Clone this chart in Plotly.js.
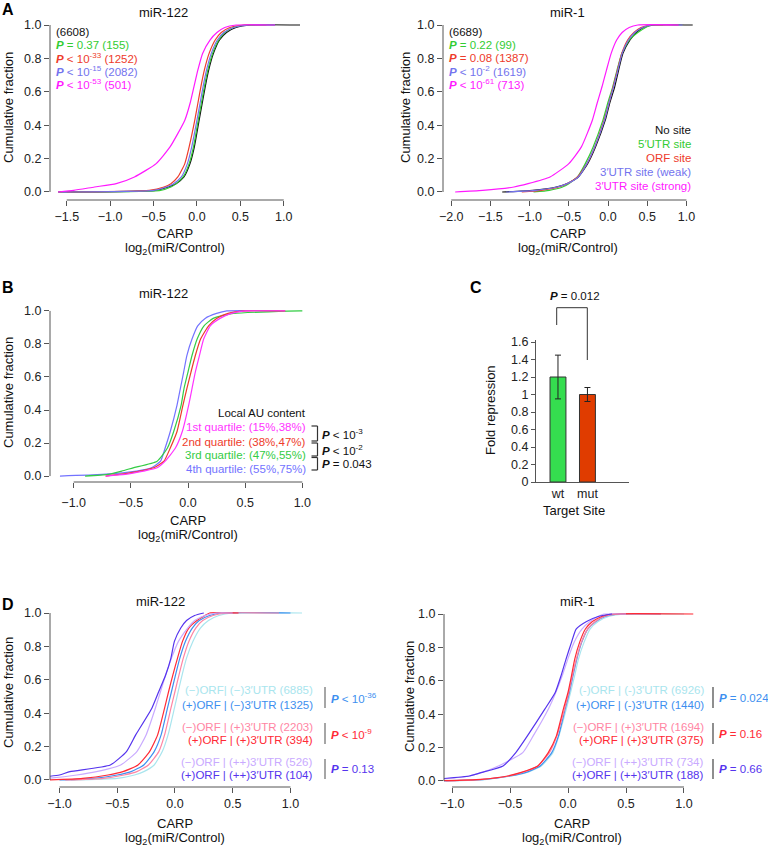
<!DOCTYPE html>
<html><head><meta charset="utf-8">
<script src="https://cdn.plot.ly/plotly-3.0.1.min.js"></script>
<style>html,body{margin:0;padding:0;background:#fff}#chart{width:768px;height:850px}</style>
</head><body><div id="chart"></div>
<script>
// ---------- DATA (x values of each cumulative curve at the shared cumulative levels) ----------
const LEVELS = [0, 0.01, 0.03, 0.05, 0.09, 0.17, 0.27, 0.43, 0.53, 0.63, 0.73, 0.83, 0.91, 0.955, 0.985, 1, 1];

// Panel A, miR-122
const A122_noSite   = [-1.6, -0.48, -0.33, -0.24, -0.15, -0.08, -0.03, 0.025, 0.06, 0.095, 0.135, 0.19, 0.26, 0.34, 0.45, 0.62, 1.2];
const A122_utr5     = [-1.45, -0.42, -0.3, -0.24, -0.16, -0.09, -0.04, 0.015, 0.05, 0.085, 0.125, 0.18, 0.25, 0.32, 0.42, 0.55, 0.9];
const A122_orf      = [-1.5, -0.55, -0.38, -0.3, -0.22, -0.14, -0.09, -0.025, 0.01, 0.045, 0.085, 0.14, 0.21, 0.28, 0.38, 0.55, 0.8];
const A122_weak     = [-1.55, -0.5, -0.35, -0.27, -0.18, -0.11, -0.06, 0.0, 0.035, 0.07, 0.11, 0.165, 0.235, 0.31, 0.42, 0.6, 0.9];
const A122_strong   = [-1.6, -1.42, -1.18, -0.93, -0.72, -0.47, -0.31, -0.14, -0.08, -0.035, 0.01, 0.065, 0.15, 0.23, 0.32, 0.45, 0.9];
// Panel A, miR-1
const A1_noSite     = [-1.35, -0.96, -0.66, -0.52, -0.38, -0.26, -0.16, -0.035, 0.02, 0.085, 0.135, 0.19, 0.28, 0.36, 0.45, 0.6, 1.08];
const A1_utr5       = [-0.95, -0.75, -0.58, -0.5, -0.39, -0.29, -0.19, -0.065, -0.005, 0.06, 0.115, 0.175, 0.27, 0.38, 0.48, 0.55, 0.7];
const A1_orf        = [-1.1, -0.85, -0.63, -0.52, -0.39, -0.27, -0.17, -0.05, 0.01, 0.065, 0.12, 0.175, 0.25, 0.33, 0.42, 0.55, 0.9];
const A1_weak       = [-1.3, -0.92, -0.65, -0.52, -0.38, -0.27, -0.17, -0.045, 0.01, 0.07, 0.125, 0.18, 0.26, 0.34, 0.44, 0.55, 0.95];
const A1_strong     = [-1.95, -1.6, -1.2, -1.02, -0.74, -0.5, -0.34, -0.2, -0.14, -0.077, -0.02, 0.04, 0.11, 0.18, 0.27, 0.38, 0.9];
// Panel B, miR-122, local AU quartiles
const B_q1 = [-0.72, -0.55, -0.39, -0.27, -0.2, -0.11, -0.05, 0.006, 0.035, 0.064, 0.1, 0.137, 0.195, 0.28, 0.38, 0.5, 0.85];
const B_q2 = [-0.72, -0.6, -0.42, -0.3, -0.21, -0.155, -0.096, -0.044, -0.01, 0.026, 0.064, 0.11, 0.18, 0.25, 0.35, 0.5, 0.85];
const B_q3 = [-0.9, -0.7, -0.58, -0.48, -0.27, -0.18, -0.125, -0.06, -0.035, 0.0, 0.035, 0.08, 0.14, 0.22, 0.4, 0.98, 1.0];
const B_q4 = [-1.12, -0.75, -0.45, -0.32, -0.24, -0.2, -0.155, -0.096, -0.067, -0.038, -0.01, 0.035, 0.085, 0.15, 0.25, 0.34, 0.8];
// Panel C
const C_sites = ['wt', 'mut'];
const C_fold  = [1.2, 1.0];
const C_err   = [0.25, 0.08];
// Panel D, miR-122
const D122_mm = [-0.9, -0.5, -0.35, -0.27, -0.18, -0.11, -0.06, -0.005, 0.028, 0.062, 0.1, 0.155, 0.22, 0.29, 0.38, 0.5, 1.1];
const D122_pm = [-1.0, -0.7, -0.5, -0.38, -0.27, -0.18, -0.12, -0.065, -0.03, 0.005, 0.042, 0.09, 0.15, 0.21, 0.3, 0.4, 1.0];
const D122_mp = [-0.95, -0.62, -0.44, -0.33, -0.23, -0.14, -0.09, -0.035, 0.0, 0.035, 0.072, 0.12, 0.18, 0.24, 0.33, 0.45, 0.9];
const D122_pp = [-1.1, -0.8, -0.58, -0.45, -0.32, -0.22, -0.15, -0.09, -0.055, -0.018, 0.022, 0.065, 0.12, 0.19, 0.26, 0.3, 0.55];
const D122_mpp = [-1.3, -1.1, -0.85, -0.68, -0.47, -0.33, -0.25, -0.17, -0.125, -0.08, -0.03, 0.03, 0.11, 0.17, 0.26, 0.36, 0.5];
const D122_ppp = [-1.4, -1.25, -1.0, -0.91, -0.56, -0.42, -0.34, -0.2, -0.14, -0.08, -0.035, -0.005, 0.05, 0.1, 0.17, 0.25, 0.25];
// Panel D, miR-1
const D1_mm = [-1.05, -0.7, -0.49, -0.36, -0.23, -0.13, -0.078, -0.015, 0.022, 0.057, 0.09, 0.138, 0.19, 0.26, 0.35, 0.5, 1.0];
const D1_pm = [-1.1, -0.72, -0.5, -0.37, -0.24, -0.14, -0.082, -0.025, 0.012, 0.043, 0.076, 0.118, 0.17, 0.24, 0.32, 0.45, 0.8];
const D1_mp = [-1.05, -0.74, -0.51, -0.4, -0.26, -0.16, -0.095, -0.03, 0.007, 0.038, 0.072, 0.115, 0.17, 0.235, 0.31, 0.45, 0.8];
const D1_pp = [-1.2, -0.75, -0.52, -0.41, -0.26, -0.17, -0.1, -0.04, 0.0, 0.03, 0.058, 0.1, 0.15, 0.21, 0.29, 0.37, 1.08];
const D1_mpp = [-1.3, -1.1, -0.85, -0.75, -0.6, -0.39, -0.3, -0.17, -0.105, -0.05, -0.002, 0.052, 0.12, 0.19, 0.26, 0.31, 0.5];
const D1_ppp = [-1.3, -1.15, -0.85, -0.75, -0.56, -0.45, -0.35, -0.2, -0.11, -0.06, -0.017, 0.03, 0.07, 0.16, 0.26, 0.38, 0.38];

// Labels
const A_legend = ['No site', "5′UTR site", 'ORF site', "3′UTR site (weak)", "3′UTR site (strong)"];
const A122_counts = ['(6608)', '<b><i>P</i></b> = 0.37 (155)', '<b><i>P</i></b> &lt; 10<sup>-33</sup> (1252)', '<b><i>P</i></b> &lt; 10<sup>-15</sup> (2082)', '<b><i>P</i></b> &lt; 10<sup>-53</sup> (501)'];
const A1_counts = ['(6689)', '<b><i>P</i></b> = 0.22 (99)', '<b><i>P</i></b> = 0.08 (1387)', '<b><i>P</i></b> &lt; 10<sup>-2</sup> (1619)', '<b><i>P</i></b> &lt; 10<sup>-61</sup> (713)'];
const B_legend = ['1st quartile: (15%,38%)', '2nd quartile: (38%,47%)', '3rd quartile: (47%,55%)', '4th quartile: (55%,75%)'];
const B_pvals = ['<b><i>P</i></b> &lt; 10<sup>-3</sup>', '<b><i>P</i></b> &lt; 10<sup>-2</sup>', '<b><i>P</i></b> = 0.043'];
const D122_legend = ['(−)ORF| (−)3′UTR (6885)', '(+)ORF | (−)3′UTR (1325)', '(−)ORF | (+)3′UTR (2203)', '(+)ORF | (+)3′UTR (394)', '(−)ORF | (++)3′UTR (526)', '(+)ORF | (++)3′UTR (104)'];
const D1_legend = ['(-)ORF | (-)3′UTR (6926)', '(+)ORF | (-)3′UTR (1440)', '(−)ORF | (+)3′UTR (1694)', '(+)ORF | (+)3′UTR (375)', '(−)ORF | (++)3′UTR (734)', '(+)ORF | (++)3′UTR (188)'];
const D122_pvals = ['<b><i>P</i></b> &lt; 10<sup>-36</sup>', '<b><i>P</i></b> &lt; 10<sup>-9</sup>', '<b><i>P</i></b> = 0.13'];
const D1_pvals = ['<b><i>P</i></b> = 0.024', '<b><i>P</i></b> = 0.16', '<b><i>P</i></b> = 0.66'];

// ---------- STYLE ----------
const FONT = 'Liberation Sans, Arial, Helvetica, sans-serif';
const A_colors = ['#111111', '#33cc33', '#ee3b2b', '#7373ee', '#ff19ff'];
const B_colors = ['#ff33ff', '#ee3b2b', '#33cc44', '#7373ff'];
const D_colors = ['#a9e5ee', '#3d8ff0', '#ff85a3', '#ff2a35', '#c9aaff', '#5534ee'];
const AXC = '#555555';
const TICKF = 12.5, TXT = 11.5, TTL = 13;
const W = 768, H = 850;
const fx = v => v / W, fy = v => 1 - v / H;

const traces = [];
function cdf(xs, color, ax) {
  traces.push({x: xs, y: LEVELS, type: 'scatter', mode: 'lines', xaxis: 'x' + ax, yaxis: 'y' + ax,
    line: {color: color, width: 1.2, shape: 'spline', smoothing: 0.5}, hoverinfo: 'skip', showlegend: false});
}
[A122_noSite, A122_utr5, A122_orf, A122_weak, A122_strong].forEach((d, i) => cdf(d, A_colors[i], ''));
[A1_noSite, A1_utr5, A1_orf, A1_weak, A1_strong].forEach((d, i) => cdf(d, A_colors[i], '2'));
[B_q4, B_q3, B_q2, B_q1].forEach((d, i) => cdf(d, B_colors[3 - i], '3'));
[D122_mm, D122_pm, D122_mp, D122_pp, D122_mpp, D122_ppp].forEach((d, i) => cdf(d, D_colors[i], '5'));
[D1_mm, D1_pm, D1_mp, D1_pp, D1_mpp, D1_ppp].forEach((d, i) => cdf(d, D_colors[i], '6'));

traces.push({x: C_sites, y: C_fold, type: 'bar', xaxis: 'x4', yaxis: 'y4', width: 0.54,
  marker: {color: ['#35dd4f', '#e03c00'], line: {color: '#333', width: 1}},
  error_y: {type: 'data', array: C_err, visible: true, color: '#222', thickness: 1, width: 3},
  hoverinfo: 'skip', showlegend: false});

const layout = {width: W, height: H, margin: {l: 0, r: 0, t: 0, b: 0},
  paper_bgcolor: '#fff', plot_bgcolor: 'rgba(0,0,0,0)', font: {family: FONT, size: TXT, color: '#222'},
  showlegend: false, annotations: [], shapes: []};

function cdfAxes(ax, xl, xr, yb, yt, xr0, xr1, yr0, yr1, xt, xstand) {
  const common = {showgrid: false, zeroline: false, showline: false, ticks: 'outside', ticklen: 5,
    tickwidth: 1, tickcolor: AXC, tickfont: {size: TICKF, color: '#222', family: FONT}, tickformat: '.1f', fixedrange: true};
  layout['xaxis' + ax] = Object.assign({}, common, {domain: [fx(xl), fx(xr)], range: [xr0, xr1], tickvals: xt, anchor: 'y' + ax, ticklabelstandoff: xstand || 0});
  layout['yaxis' + ax] = Object.assign({}, common, {domain: [fy(yb), fy(yt)], range: [yr0, yr1], tickvals: [0, 0.2, 0.4, 0.6, 0.8, 1.0], anchor: 'x' + ax});
  const xa = 'x' + ax, ya = 'y' + ax;
  layout.shapes.push({type: 'line', xref: xa + ' domain', yref: ya, x0: 0, x1: 0, y0: 0, y1: 1, line: {color: AXC, width: 1}});
  layout.shapes.push({type: 'line', xref: xa, yref: ya + ' domain', x0: xt[0], x1: xt[xt.length - 1], y0: 0, y1: 0, line: {color: AXC, width: 1}});
}
cdfAxes('', 50, 300, 200, 20, -1.693, 1.187, -0.048, 1.03, [-1.5, -1, -0.5, 0, 0.5, 1]);
cdfAxes('2', 443, 700, 200, 20, -2.105, 1.173, -0.048, 1.03, [-2, -1.5, -1, -0.5, 0, 0.5, 1]);
cdfAxes('3', 50, 310, 482, 306, -1.207, 1.067, -0.036, 1.03, [-1, -0.5, 0, 0.5, 1], 4);
cdfAxes('5', 50, 310, 787, 608, -1.082, 1.169, -0.042, 1.03, [-1, -0.5, 0, 0.5, 1]);
cdfAxes('6', 444, 700, 787, 609, -1.069, 1.138, -0.036, 1.03, [-1, -0.5, 0, 0.5, 1]);

layout.xaxis4 = {domain: [fx(536), fx(629)], range: [-0.746, 2.41], type: 'category', anchor: 'y4', showgrid: false, zeroline: false,
  showline: true, linecolor: AXC, linewidth: 1, ticks: '', tickfont: {size: TICKF, color: '#222', family: FONT}, fixedrange: true};
layout.yaxis4 = {domain: [fy(482), fy(340)], range: [0, 1.623], anchor: 'x4', showgrid: false, zeroline: false,
  showline: true, linecolor: AXC, linewidth: 1, ticks: 'outside', ticklen: 4, tickcolor: AXC,
  tickvals: [0, 0.2, 0.4, 0.6, 0.8, 1, 1.2, 1.4, 1.6], tickfont: {size: TICKF, color: '#222', family: FONT}, fixedrange: true};

function ann(text, x, y, o) {
  o = o || {};
  layout.annotations.push({text: text, xref: 'paper', yref: 'paper', x: fx(x), y: fy(y), showarrow: false,
    xanchor: o.xa || 'center', yanchor: 'middle', textangle: o.rot || 0,
    font: {family: FONT, size: o.size || TXT, color: o.color || '#111'}});
}
function seg(x0, y0, x1, y1, color, w) {
  layout.shapes.push({type: 'line', xref: 'paper', yref: 'paper', x0: fx(x0), y0: fy(y0), x1: fx(x1), y1: fy(y1), line: {color: color, width: w || 1}});
}

// panel letters
ann('<b>A</b>', 8, 9, {size: 16, color: '#000'});
ann('<b>B</b>', 8, 287, {size: 16, color: '#000'});
ann('<b>C</b>', 476, 287, {size: 16, color: '#000'});
ann('<b>D</b>', 8, 604, {size: 16, color: '#000'});

// titles & axis titles
const xt1 = 'CARP', xt2 = 'log<sub>2</sub>(miR/Control)';
[[163, 12, 'miR-122', 175, 233, 8, 108], [567, 12, 'miR-1', 568, 233, 405, 108], [163, 293, 'miR-122', 188, 520, 8, 393],
 [160, 601, 'miR-122', 175, 823, 8, 693], [577, 601, 'miR-1', 572, 823, 409, 697]].forEach(p => {
  ann(p[2], p[0], p[1], {size: TTL});
  ann(xt1, p[3], p[4], {size: TTL});
  ann(xt2, p[3], p[4] + 15, {size: TTL});
  ann('Cumulative fraction', p[5], p[6], {size: TTL, rot: -90});
});

// Panel A texts
const aRows = [32, 45, 58, 71, 84];
const aCols = ['#111111', '#33cc33', '#ee3b2b', '#7373ee', '#ff19ff'];
A122_counts.forEach((t, i) => ann(t, 54, aRows[i], {xa: 'left', color: aCols[i]}));
A1_counts.forEach((t, i) => ann(t, 447, aRows[i], {xa: 'left', color: aCols[i]}));
const legRows = [129.5, 144, 157.5, 171.5, 185.5];
A_legend.forEach((t, i) => ann(t, 693, legRows[i], {xa: 'right', color: aCols[i]}));

// Panel B texts
ann('Local AU content', 308, 413, {xa: 'right', color: '#111'});
const bRows = [427, 441.5, 455, 469];
B_legend.forEach((t, i) => ann(t, 308, bRows[i], {xa: 'right', color: B_colors[i]}));
const brk = [[426, 441], [443, 456], [457.5, 470]];
brk.forEach((b, i) => {
  seg(311.5, b[0], 317.5, b[0], '#333', 1.2);
  seg(317.5, b[0], 317.5, b[1], '#333', 1.2);
  seg(311.5, b[1], 317.5, b[1], '#333', 1.2);
  ann(B_pvals[i], 320, (b[0] + b[1]) / 2, {xa: 'left', color: '#111'});
});

// Panel C texts
ann('<b><i>P</i></b> = 0.012', 575, 296, {color: '#111'});
layout.shapes.push({type: 'path', xref: 'paper', yref: 'paper', line: {color: '#333', width: 1},
  path: 'M ' + fx(556.7) + ' ' + fy(325) + ' L ' + fx(556.7) + ' ' + fy(307.7) + ' L ' + fx(587.3) + ' ' + fy(307.7) + ' L ' + fx(587.3) + ' ' + fy(360)});
ann('Fold repression', 490, 410, {size: TTL, rot: -90});
ann('Target Site', 574, 510, {size: TTL});

// Panel D texts
const dRows = [690, 704.5, 726.5, 740, 761.5, 774.5];
D122_legend.forEach((t, i) => ann(t, 315, dRows[i], {xa: 'right', color: D_colors[i]}));
D1_legend.forEach((t, i) => ann(t, 706, dRows[i], {xa: 'right', color: D_colors[i]}));
const dBars = [[687, 708], [723, 744], [759, 779]];
const pCols = [D_colors[1], D_colors[3], D_colors[5]];
dBars.forEach((b, i) => {
  seg(325, b[0], 325, b[1], '#888', 1.5);
  seg(713, b[0], 713, b[1], '#444', 1.2);
  ann(D122_pvals[i], 329, (b[0] + b[1]) / 2, {xa: 'left', color: pCols[i]});
  ann(D1_pvals[i], 717, (b[0] + b[1]) / 2, {xa: 'left', color: pCols[i]});
});

Plotly.newPlot('chart', traces, layout, {staticPlot: true, displayModeBar: false});
</script></body></html>
